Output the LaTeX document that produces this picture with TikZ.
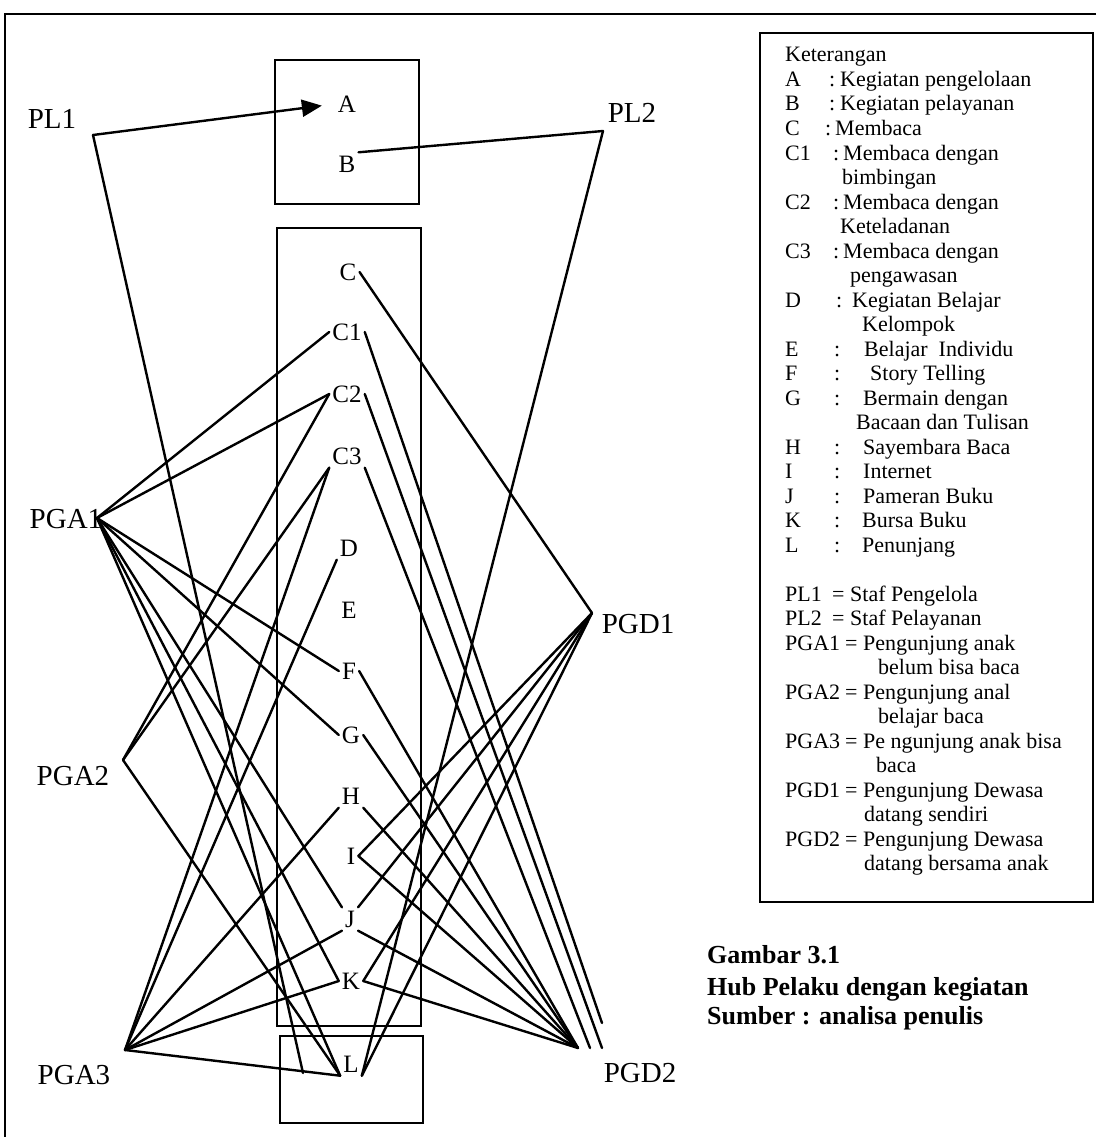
\documentclass[tikz,border=0pt]{standalone}
\usepackage{fontspec}
\setmainfont{Liberation Serif}
\usetikzlibrary{arrows.meta}
\begin{document}
\begin{tikzpicture}[x=1pt,y=-1pt,
  actor/.style={font=\fontsize{29}{29}\selectfont, inner sep=0pt},
  act/.style={font=\fontsize{25}{25}\selectfont, inner xsep=3pt, inner ysep=3pt, text height=17pt, text depth=0pt},
  wire/.style={line width=2.4pt, line cap=round, line join=round},
  box/.style={line width=1.6pt},
  leg/.style={font=\fontsize{22}{22}\selectfont, anchor=base west, inner sep=0pt},
  capt/.style={font=\bfseries\fontsize{26}{26}\selectfont, anchor=base west, inner sep=0pt}]
\useasboundingbox (0,0) rectangle (1096,1137);

% outer frame
\draw[box] (1096,14) -- (5,14) -- (5,1137);

% activity boxes
\draw[box] (275,60) rectangle (419,204);
\draw[box] (277,228) rectangle (421,1026);
\draw[box] (280,1036) rectangle (423,1123);

% activities
\node[act] (A)  at (347,104) {A};
\node[act] (B)  at (347,164) {B};
\node[act] (C)  at (348,272) {C};
\node[act] (C1) at (347,332) {C1};
\node[act] (C2) at (347,394) {C2};
\node[act] (C3) at (347,456) {C3};
\node[act] (D)  at (349,548) {D};
\node[act] (E)  at (349,610) {E};
\node[act] (F)  at (349,671) {F};
\node[act] (G)  at (351,735) {G};
\node[act] (H)  at (351,796) {H};
\node[act] (I)  at (351,856) {I};
\node[act] (J)  at (350,919) {J};
\node[act] (K)  at (351,981) {K};
\node[act] (L)  at (351,1064) {L};

% actors
\node[actor] (PL1)  at (52,119)   {PL1};
\node[actor] (PL2)  at (632,113)  {PL2};
\node[actor] (PGA1) at (66,519)   {PGA1};
\node[actor] (PGA2) at (73,776)   {PGA2};
\node[actor] (PGA3) at (74,1075)  {PGA3};
\node[actor] (PGD1) at (638,624)  {PGD1};
\node[actor] (PGD2) at (640,1073) {PGD2};

% points where the actor lines meet
\coordinate (pl1)   at (93,135);
\coordinate (pl2)   at (603,131);
\coordinate (pga1)  at (97,518);
\coordinate (pga2)  at (123,760);
\coordinate (pga3)  at (125,1050);
\coordinate (pgd1)  at (592,613);
\coordinate (pgd2)  at (578,1048);
\coordinate (pgd2b) at (590,1048);
\coordinate (pgd2c) at (602,1048);
\coordinate (pgd2d) at (602,1023);
\coordinate (pl1end) at (303,1073);

% staff
\draw[wire,-{Triangle[length=20pt,width=17pt]}, shorten >=13pt] (pl1) -- (A.west);
\draw[wire] (pl1) -- (pl1end);
\draw[wire] (pl2) -- (B.north east);
\draw[wire] (pl2) -- (L.south east);

% children
\draw[wire] (pga1) -- (C1.west);
\draw[wire] (pga1) -- (C2.west);
\draw[wire] (pga1) -- (F.west);
\draw[wire] (pga1) -- (G.west);
\draw[wire] (pga1) -- (J.north west);
\draw[wire] (pga1) -- (K.west);
\draw[wire] (pga1) -- (L.south west);

\draw[wire] (pga2) -- (C2.west);
\draw[wire] (pga2) -- (C3.south west);
\draw[wire] (pga2) -- (L.south west);

\draw[wire] (pga3) -- (C3.south west);
\draw[wire] (pga3) -- (D.south west);
\draw[wire] (pga3) -- (H.south west);
\draw[wire] (pga3) -- (J.south west);
\draw[wire] (pga3) -- (K.west);
\draw[wire] (pga3) -- (L.south west);

% adults
\draw[wire] (C.east) -- (pgd1);
\draw[wire] (pgd1) -- (I.east);
\draw[wire] (pgd1) -- (J.north east);
\draw[wire] (pgd1) -- (K.east);
\draw[wire] (pgd1) -- (L.south east);

\draw[wire] (C1.east) -- (pgd2d);
\draw[wire] (C2.east) -- (pgd2c);
\draw[wire] (C3.south east) -- (pgd2b);
\draw[wire] (F.east) -- (pgd2);
\draw[wire] (G.east) -- (pgd2);
\draw[wire] (H.south east) -- (pgd2);
\draw[wire] (I.east) -- (pgd2);
\draw[wire] (J.south east) -- (pgd2);
\draw[wire] (K.east) -- (pgd2);

% legend
\draw[box] (760,33) rectangle (1093,902);
\node[leg] (lhead) at (785,62) {Keterangan};
\foreach \b/\k/\s/\cx/\dx/\t [count=\n] in {
  86.5/A/:/829/840/Kegiatan pengelolaan,
  111/B/:/829/840/Kegiatan pelayanan,
  135.5/C/:/825/835/Membaca,
  160/C1/:/833/843/Membaca dengan,
  209/C2/:/833/843/Membaca dengan,
  258/C3/:/833/843/Membaca dengan,
  307/D/:/836/852/Kegiatan Belajar,
  356/E/:/834/864/Belajar~ Individu,
  380.5/F/:/834/870/Story Telling,
  405/G/:/834/863/Bermain dengan,
  454/H/:/834/863/Sayembara Baca,
  478.5/I/:/834/863/Internet,
  503/J/:/834/863/Pameran Buku,
  527.5/K/:/834/862/Bursa Buku,
  552/L/:/834/862/Penunjang,
  601/PL1/=/832/850/Staf Pengelola,
  625.5/PL2/=/832/850/Staf Pelayanan,
  650/PGA1/=/845/863/Pengunjung anak,
  699/PGA2/=/845/863/Pengunjung anal,
  748/PGA3/=/845/863/Pe ngunjung anak bisa,
  797/PGD1/=/845/863/Pengunjung Dewasa,
  846/PGD2/=/845/863/Pengunjung Dewasa}
{
  \node[leg] (lk\n) at (785,\b) {\k};
  \node[leg] (ls\n) at (\cx,\b) {\s};
  \node[leg] (lt\n) at (\dx,\b) {\t};
}
\foreach \b/\dx/\t [count=\n] in {
  184.5/842/bimbingan,
  233.5/840/Keteladanan,
  282.5/850/pengawasan,
  331.5/862/Kelompok,
  429.5/856/Bacaan dan Tulisan,
  674.5/878/belum bisa baca,
  723.5/878/belajar baca,
  772.5/876/baca,
  821.5/864/datang sendiri,
  870.5/864/datang bersama anak}
{
  \node[leg] (lc\n) at (\dx,\b) {\t};
}

% caption
\node[capt] (cap1) at (707,963)  {Gambar 3.1};
\node[capt] (cap2) at (707,995)  {Hub Pelaku dengan kegiatan};
\node[capt] (cap3) at (707,1024) {Sumber : analisa penulis};
\end{tikzpicture}
\end{document}
